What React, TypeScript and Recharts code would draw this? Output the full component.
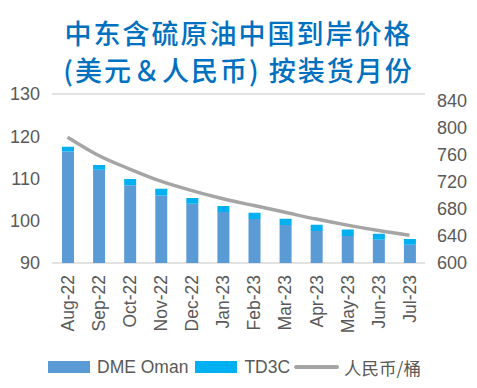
import { ComposedChart, Bar, Line, XAxis, YAxis, CartesianGrid } from 'recharts'

const months = ['Aug-22', 'Sep-22', 'Oct-22', 'Nov-22', 'Dec-22', 'Jan-23', 'Feb-23', 'Mar-23', 'Apr-23', 'May-23', 'Jun-23', 'Jul-23']
const dmeOman = [116.4, 112.1, 108.4, 106.0, 104.0, 102.1, 100.4, 99.0, 97.6, 96.4, 95.5, 94.3]
const td3c = [1.1, 1.1, 1.5, 1.6, 1.4, 1.4, 1.5, 1.5, 1.45, 1.5, 1.4, 1.4]
const rmbPerBbl = [786, 759, 739, 721, 707, 695, 685, 675, 665, 656, 648, 641]
const leftTicks = [90, 100, 110, 120, 130]
const rightTicks = [600, 640, 680, 720, 760, 800, 840]

const data = months.map((m, i) => ({ month: m, dme: dmeOman[i], td3c: td3c[i], rmb: rmbPerBbl[i] }))

const FONT = '"Liberation Sans", Arial, "Noto Sans CJK SC", sans-serif'
const TICK = '#595959'

const MonthTick = ({ x, y, payload }: { x?: number; y?: number; payload?: { value: string } }) => (
  <g transform={`translate(${x},${(y ?? 0) + 4}) rotate(-90)`}>
    <text x={0} y={0} dy="0.36em" textAnchor="end" fill={TICK} fontSize={17.5} fontFamily={FONT}>
      {payload?.value}
    </text>
  </g>
)

export default function App() {
  return (
    <div style={{ position: 'absolute', left: 0, top: 0, width: 477, height: 388, background: '#fff', fontFamily: FONT }}>
      <div
        style={{
          position: 'absolute', top: 15, left: 0, width: 477, textAlign: 'center',
          color: '#0070C0', fontSize: 27, lineHeight: '36.5px', letterSpacing: 2,
          fontFamily: '"Noto Sans CJK SC", sans-serif', fontWeight: 500,
        }}
      >
        <div>中东含硫原油中国到岸价格</div>
        <div>(美元＆人民币) 按装货月份</div>
      </div>
      <ComposedChart
        width={477}
        height={388}
        data={data}
        margin={{ top: 94, right: 0, bottom: 50, left: 0 }}
        barSize={12}
        style={{ position: 'absolute', left: 0, top: 0 }}
      >
        <CartesianGrid horizontal vertical={false} stroke="#D9D9D9" strokeWidth={1.5} />
        <XAxis
          dataKey="month"
          axisLine={false}
          tickLine={false}
          interval={0}
          height={75}
          tick={<MonthTick />}
        />
        <YAxis
          yAxisId="left"
          domain={[90, 130]}
          allowDataOverflow
          ticks={leftTicks}
          width={52}
          axisLine={false}
          tickLine={false}
          tickMargin={6}
          tick={{ fill: TICK, fontSize: 18, fontFamily: FONT }}
        />
        <YAxis
          yAxisId="right"
          orientation="right"
          domain={[600, 850]}
          allowDataOverflow
          ticks={rightTicks}
          width={52}
          axisLine={false}
          tickLine={false}
          tickMargin={6}
          tick={{ fill: TICK, fontSize: 18, fontFamily: FONT }}
        />
        <Bar yAxisId="left" dataKey="dme" stackId="a" fill="#5B9BD5" isAnimationActive={false} />
        <Bar yAxisId="left" dataKey="td3c" stackId="a" fill="#00B0F0" isAnimationActive={false} />
        <Line
          yAxisId="right"
          dataKey="rmb"
          stroke="#A5A5A5"
          strokeWidth={3.5}
          dot={false}
          type="monotone"
          isAnimationActive={false}
        />
      </ComposedChart>
      <div
        style={{
          position: 'absolute', top: 355, left: 48, display: 'flex', alignItems: 'center',
          fontSize: 17.5, color: TICK, height: 24, whiteSpace: 'nowrap',
        }}
      >
        <span style={{ width: 42, height: 12, background: '#5B9BD5', display: 'inline-block' }} />
        <span style={{ marginLeft: 7, marginRight: 7 }}>DME Oman</span>
        <span style={{ width: 42, height: 12, background: '#00B0F0', display: 'inline-block' }} />
        <span style={{ marginLeft: 7, marginRight: 4 }}>TD3C</span>
        <span style={{ width: 45, height: 4, background: '#A5A5A5', display: 'inline-block', borderRadius: 2 }} />
        <span style={{ marginLeft: 5, fontFamily: '"Noto Sans CJK SC", sans-serif' }}>人民币/桶</span>
      </div>
    </div>
  )
}
